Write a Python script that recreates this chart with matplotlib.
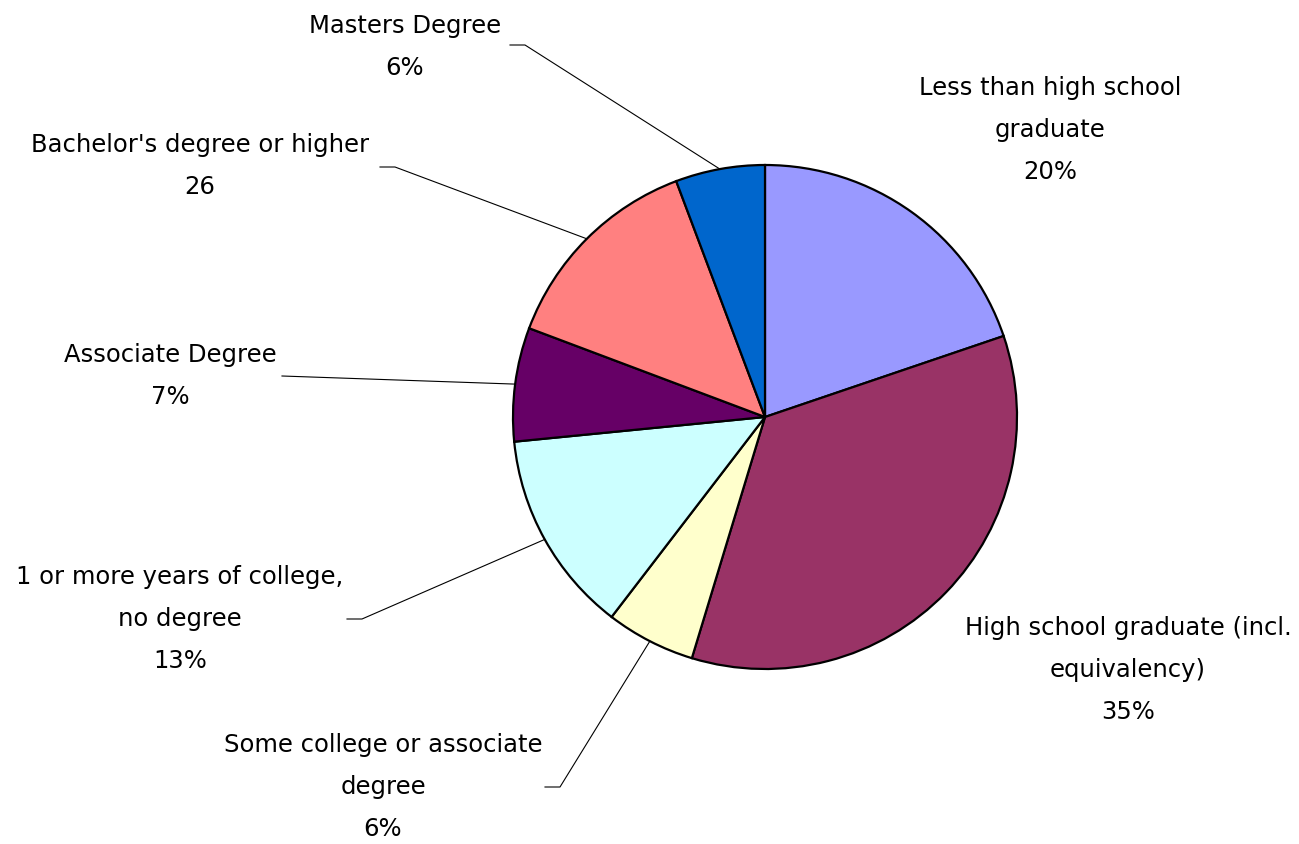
import numpy as np
import matplotlib.pyplot as plt

# education attainment counts (pie is drawn clockwise from 12 o'clock)
categories = ['Less than high school\ngraduate',
              'High school graduate (incl.\nequivalency)',
              'Some college or associate\ndegree',
              '1 or more years of college,\nno degree',
              'Associate Degree',
              "Bachelor's degree or higher",
              'Masters Degree']
counts = [38, 67, 11, 25, 14, 26, 11]
show_value = [False, False, False, False, False, True, False]
colors = ['#9999FF', '#993366', '#FFFFCC', '#CCFFFF', '#660066', '#FF8080', '#0066CC']

# label centre (x, y from top) and start of the leader line, in pixels
W, H = 1299, 844
label_pos = [(1050, 130), (1128, 670), (383, 787), (180, 619), (170, 376), (200, 166), (405, 47)]
leader_start = [None, None, (545, 787), (347, 619), (282, 376), (380, 167), (510, 45)]
centre = (765, H - 417)
radius = 252

fig = plt.figure(figsize=(W / 100, H / 100), dpi=100)
ax = fig.add_axes([0, 0, 1, 1])

wedges, _ = ax.pie(counts, colors=colors, startangle=90, counterclock=False,
                   center=centre, radius=radius, frame=True,
                   wedgeprops=dict(edgecolor='black', linewidth=1.6))
ax.set_xlim(0, W)
ax.set_ylim(0, H)
ax.set_aspect('equal')
ax.axis('off')

total = sum(counts)
for i, w in enumerate(wedges):
    if show_value[i]:
        txt = '%s\n%d' % (categories[i], counts[i])
    else:
        txt = '%s\n%d%%' % (categories[i], round(100 * counts[i] / total))
    lx, ly = label_pos[i]
    ax.text(lx, H - ly, txt, ha='center', va='center', fontsize=17.5,
            linespacing=1.95, family='DejaVu Sans')

    if leader_start[i] is not None:
        mid = np.deg2rad((w.theta1 + w.theta2) / 2)
        ex = centre[0] + radius * np.cos(mid)
        ey = centre[1] + radius * np.sin(mid)
        sx, sy = leader_start[i]
        dx = 15 if i != 4 else 0
        ax.plot([sx, sx + dx, ex], [H - sy, H - sy, ey], color='black', lw=0.8)

plt.savefig('out.png', dpi=100)
